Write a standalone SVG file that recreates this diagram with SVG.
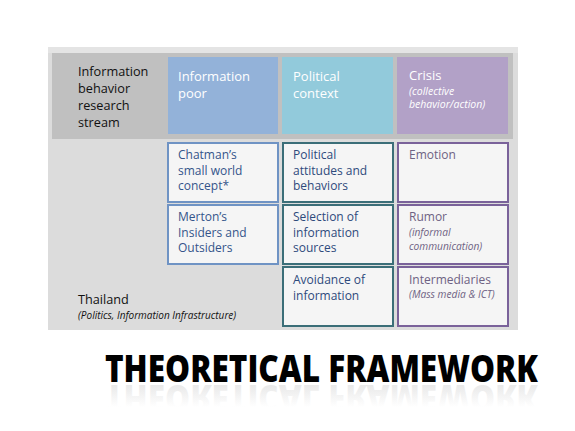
<svg xmlns="http://www.w3.org/2000/svg" width="575" height="431" viewBox="0 0 575 431">
<style>
text{font-family:"Open Sans","Noto Sans","Liberation Sans",sans-serif;}
.lbl{font-size:12.7px;fill:#111;}
.hd{font-size:13px;fill:#fff;}
.hdi{font-size:10.5px;fill:#fff;font-style:italic;}
.c1{fill:#f5f5f5;stroke:#6f93c4;stroke-width:2;}
.c2{fill:#f5f5f5;stroke:#3b6e78;stroke-width:2;}
.c3{fill:#f5f5f5;stroke:#7a629a;stroke-width:2;}
.t1{font-size:12px;fill:#34548a;}
.t2{font-size:12px;fill:#2e4a7c;}
.t3{font-size:12px;fill:#6e6283;}
.t3i{font-size:10.2px;fill:#6e6283;font-style:italic;}
.title{font-size:37px;font-weight:800;fill:#000;}
</style>
<defs>
<linearGradient id="refl" x1="0" y1="1" x2="0" y2="0">
<stop offset="0" stop-color="#000" stop-opacity="0.13"/>
<stop offset="0.65" stop-color="#000" stop-opacity="0"/>
</linearGradient>
</defs>
<rect x="48" y="47" width="470" height="283" fill="#dcdcdc"/>
<rect x="48" y="47" width="470" height="6" fill="#e4e4e4"/>
<rect x="52" y="53" width="461" height="86" fill="#c0c0c0"/>
<g id="stream">
<text class="lbl" x="78" y="76">Information</text>
<text class="lbl" x="78" y="93">behavior</text>
<text class="lbl" x="78" y="110">research</text>
<text class="lbl" x="78" y="127">stream</text>
</g>
<g id="info-poor">
<rect x="168" y="57" width="110" height="77" fill="#93b2d9"/>
<text class="hd" x="178" y="81">Information</text>
<text class="hd" x="178" y="98">poor</text>
</g>
<g id="political-context">
<rect x="282" y="57" width="111" height="77" fill="#92cadb"/>
<text class="hd" x="293" y="81">Political</text>
<text class="hd" x="293" y="98">context</text>
</g>
<g id="crisis">
<rect x="397" y="57" width="111" height="77" fill="#b2a1c7"/>
<text class="hd" x="409" y="80">Crisis</text>
<text class="hdi" x="409" y="95">(collective</text>
<text class="hdi" x="409" y="108">behavior/action)</text>
</g>
<g id="chatman">
<rect class="c1" x="168" y="143" width="110" height="59"/>
<text class="t1" x="178" y="159">Chatman’s</text>
<text class="t1" x="178" y="175">small world</text>
<text class="t1" x="178" y="190">concept*</text>
</g>
<g id="merton">
<rect class="c1" x="168" y="205" width="110" height="59"/>
<text class="t1" x="178" y="221">Merton’s</text>
<text class="t1" x="178" y="237">Insiders and</text>
<text class="t1" x="178" y="252">Outsiders</text>
</g>
<g id="attitudes">
<rect class="c2" x="283" y="143" width="110" height="59"/>
<text class="t2" x="293" y="159">Political</text>
<text class="t2" x="293" y="175">attitudes and</text>
<text class="t2" x="293" y="190">behaviors</text>
</g>
<g id="selection">
<rect class="c2" x="283" y="205" width="110" height="59"/>
<text class="t2" x="293" y="221">Selection of</text>
<text class="t2" x="293" y="237">information</text>
<text class="t2" x="293" y="252">sources</text>
</g>
<g id="avoidance">
<rect class="c2" x="283" y="267" width="110" height="59"/>
<text class="t2" x="293" y="284">Avoidance of</text>
<text class="t2" x="293" y="300">information</text>
</g>
<g id="emotion">
<rect class="c3" x="398" y="143" width="110" height="59"/>
<text class="t3" x="409" y="159">Emotion</text>
</g>
<g id="rumor">
<rect class="c3" x="398" y="205" width="110" height="59"/>
<text class="t3" x="409" y="221">Rumor</text>
<text class="t3i" x="409" y="236">(informal</text>
<text class="t3i" x="409" y="250">communication)</text>
</g>
<g id="intermediaries">
<rect class="c3" x="398" y="267" width="110" height="59"/>
<text class="t3" x="409" y="284">Intermediaries</text>
<text class="t3i" x="409" y="298">(Mass media &amp; ICT)</text>
</g>
<g id="thailand">
<text class="lbl" x="78" y="304">Thailand</text>
<text x="78" y="319" style="font-size:10px;font-style:italic;fill:#111;">(Politics, Information Infrastructure)</text>
</g>
<g id="title">
<text class="title" x="105" y="382" textLength="433" lengthAdjust="spacingAndGlyphs">THEORETICAL FRAMEWORK</text>
<text class="title" x="105" y="-385" transform="scale(1,-1)" textLength="433" lengthAdjust="spacingAndGlyphs" style="fill:url(#refl)">THEORETICAL FRAMEWORK</text>
</g>
<g id="connectors"></g>
</svg>
